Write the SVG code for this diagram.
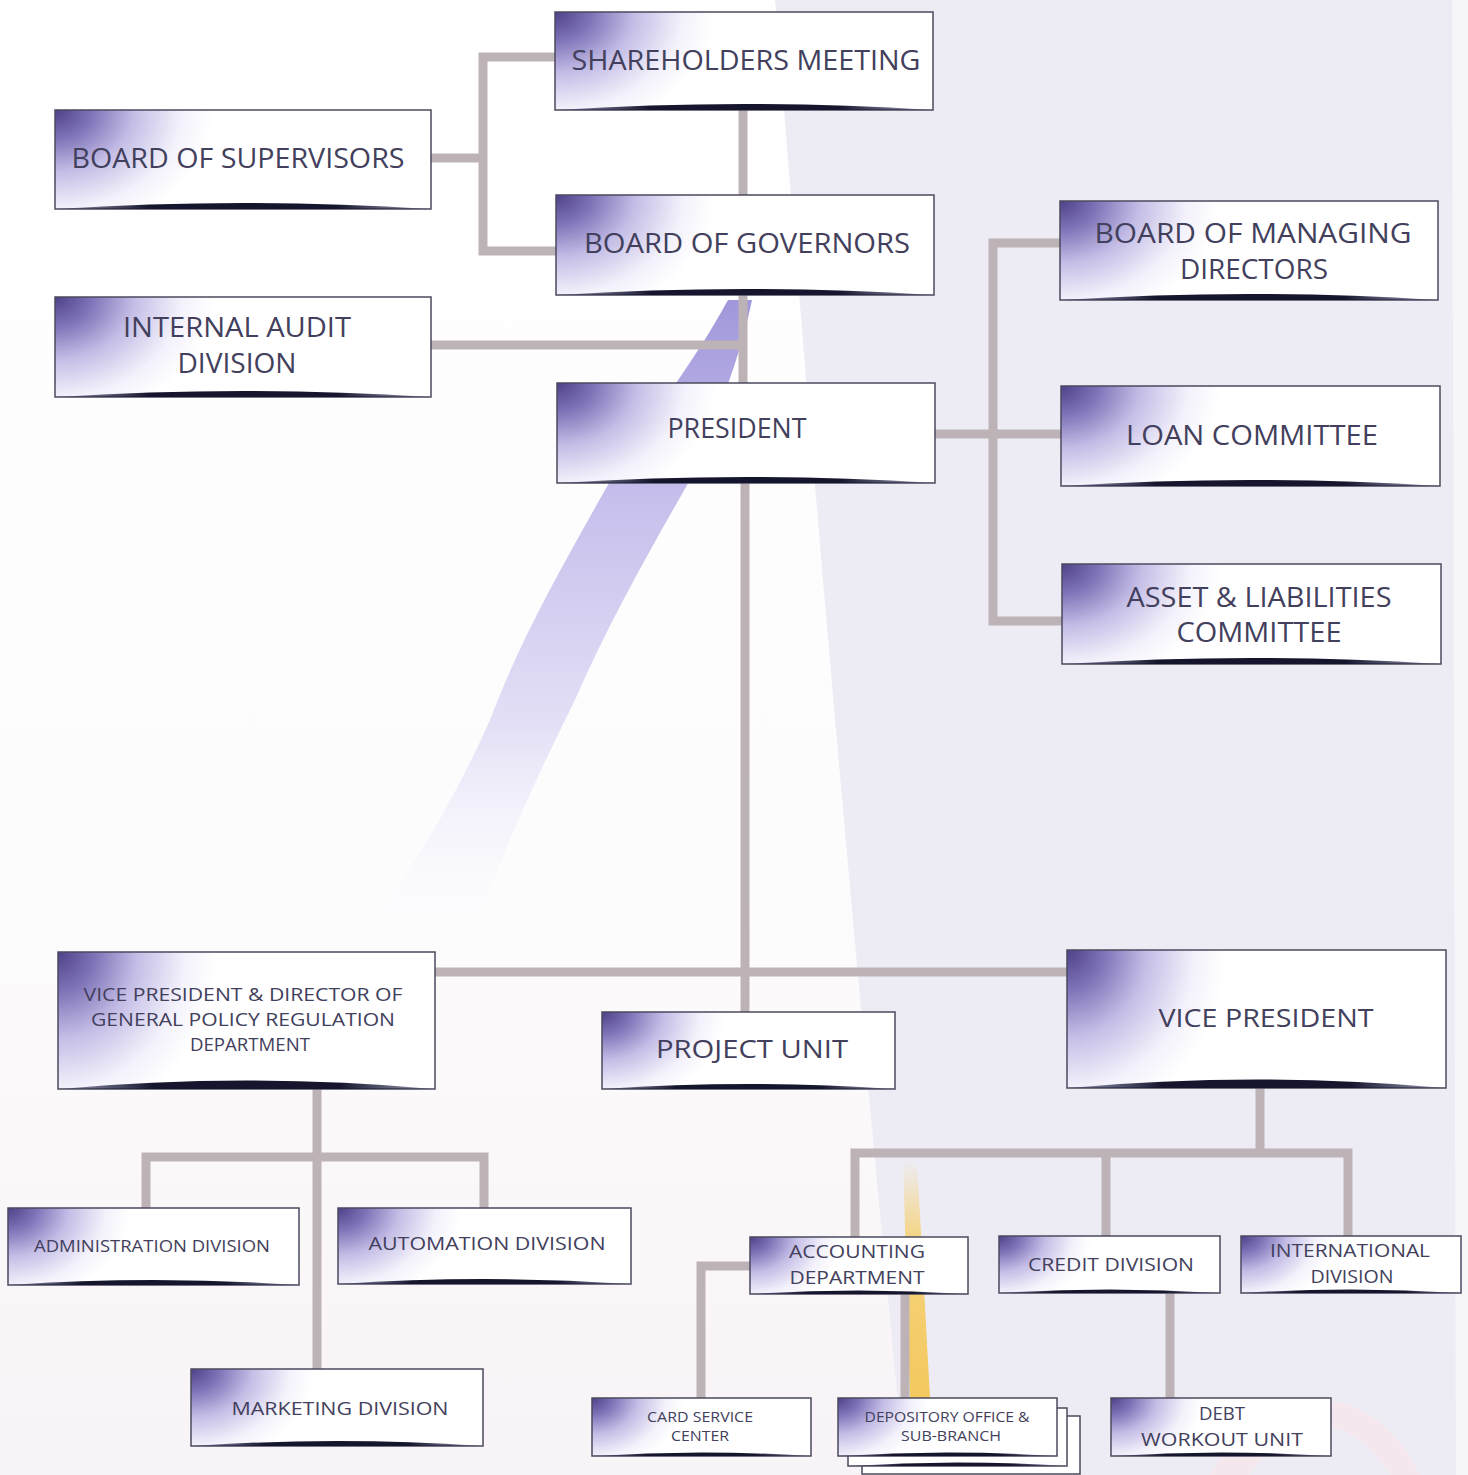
<svg xmlns="http://www.w3.org/2000/svg" width="1468" height="1475" viewBox="0 0 1468 1475">
<defs>
<radialGradient id="boxg" cx="0" cy="0" r="1" fx="0" fy="0" gradientTransform="scale(0.42,1.25)">
<stop offset="0" stop-color="#4f4189"/>
<stop offset="0.22" stop-color="#7c70b6"/>
<stop offset="0.5" stop-color="#c4bde6"/>
<stop offset="0.8" stop-color="#f3f1fb"/>
<stop offset="1" stop-color="#ffffff"/>
</radialGradient>
<linearGradient id="shg" x1="0" y1="0" x2="1" y2="0">
<stop offset="0" stop-color="#3a3a60" stop-opacity="0.5"/>
<stop offset="0.25" stop-color="#15152e"/>
<stop offset="0.75" stop-color="#15152e"/>
<stop offset="1" stop-color="#3a3a60" stop-opacity="0.5"/>
</linearGradient>
<linearGradient id="swoosh" x1="0" y1="0" x2="0" y2="1">
<stop offset="0" stop-color="#a097da"/>
<stop offset="0.3" stop-color="#c6bfec"/>
<stop offset="0.65" stop-color="#e4e0f6"/>
<stop offset="1" stop-color="#ffffff" stop-opacity="0"/>
</linearGradient>
<linearGradient id="yel" x1="0" y1="0" x2="0" y2="1">
<stop offset="0" stop-color="#f6d27a" stop-opacity="0"/>
<stop offset="0.35" stop-color="#f5d37c"/>
<stop offset="1" stop-color="#f3c85e"/>
</linearGradient>
<linearGradient id="bgL" x1="0" y1="0" x2="0" y2="1">
<stop offset="0" stop-color="#ffffff"/>
<stop offset="0.6" stop-color="#fdfcfd"/>
<stop offset="1" stop-color="#f8f3f6"/>
</linearGradient>
</defs>
<style>
.box{fill:url(#boxg);stroke:#4b4a5e;stroke-width:1.5}
.sh{fill:url(#shg)}
.t{font-family:"Open Sans","Noto Sans","Liberation Sans",sans-serif;fill:#42405c;text-anchor:middle}
.conn{fill:none;stroke:#bdb3b6;stroke-width:9;stroke-linejoin:miter;stroke-linecap:butt}
.back{fill:#ffffff;stroke:#4b4a5e;stroke-width:1.5}
</style>
<!-- background -->
<rect x="0" y="0" width="1468" height="1475" fill="url(#bgL)"/>
<path d="M775,0 C800,300 830,700 905,1475 L1468,1475 L1468,0 Z" fill="#edecf5"/>
<path d="M1452,0 L1468,0 L1468,1475 L1456,1475 Z" fill="#f6f6f9"/>
<path d="M728,300 C690,370 640,430 605,490 C560,570 520,640 490,720 C450,810 400,890 345,960 L465,960 C490,880 530,790 575,700 C610,620 650,550 690,480 C715,420 740,360 752,300 Z" fill="url(#swoosh)"/>
<path d="M903,1160 L917,1160 L930,1398 L910,1398 Z" fill="url(#yel)"/>
<path d="M1210,1475 C1260,1380 1370,1370 1420,1475 L1390,1475 C1350,1410 1290,1410 1250,1475 Z" fill="#f6e6ea" opacity="0.7"/>
<!-- connectors -->
<g id="connectors">
<path class="conn" d="M555,57 H483 V251 H556"/>
<path class="conn" d="M431,158 H483"/>
<path class="conn" d="M743,110 V195"/>
<path class="conn" d="M743,295 V383"/>
<path class="conn" d="M431,345 H743"/>
<path class="conn" d="M745,483 V1012"/>
<path class="conn" d="M435,972 H1067"/>
<path class="conn" d="M935,434 H1061"/>
<path class="conn" d="M1060,243 H993 V621 H1062"/>
<path class="conn" d="M317,1089 V1369"/>
<path class="conn" d="M146,1208 V1157 H484 V1208"/>
<path class="conn" d="M1260,1088 V1153"/>
<path class="conn" d="M855,1237 V1153 H1348 V1236"/>
<path class="conn" d="M1106,1153 V1236"/>
<path class="conn" d="M750,1266 H701 V1398"/>
<path class="conn" d="M905,1294 V1398"/>
<path class="conn" d="M1170,1293 V1398"/>
</g>
<!-- nodes -->
<g id="shareholders">
<rect class="box" x="555" y="12" width="378" height="98"/>
<path class="sh" d="M556,110 Q744,98 932,110 Z"/>
<text class="t" x="746" y="70" font-size="27" textLength="349" lengthAdjust="spacingAndGlyphs">SHAREHOLDERS MEETING</text>
</g>
<g id="supervisors">
<rect class="box" x="55" y="110" width="376" height="99"/>
<path class="sh" d="M56,209 Q243,197 430,209 Z"/>
<text class="t" x="238" y="168" font-size="27" textLength="333" lengthAdjust="spacingAndGlyphs">BOARD OF SUPERVISORS</text>
</g>
<g id="governors">
<rect class="box" x="556" y="195" width="378" height="100"/>
<path class="sh" d="M557,295 Q745,283 933,295 Z"/>
<text class="t" x="747" y="253" font-size="27" textLength="326" lengthAdjust="spacingAndGlyphs">BOARD OF GOVERNORS</text>
</g>
<g id="internal-audit">
<rect class="box" x="55" y="297" width="376" height="100"/>
<path class="sh" d="M56,397 Q243,385 430,397 Z"/>
<text class="t" x="237" y="337" font-size="27" textLength="228" lengthAdjust="spacingAndGlyphs">INTERNAL AUDIT</text>
<text class="t" x="237" y="373" font-size="27" textLength="119" lengthAdjust="spacingAndGlyphs">DIVISION</text>
</g>
<g id="president">
<rect class="box" x="557" y="383" width="378" height="100"/>
<path class="sh" d="M558,483 Q746,471 934,483 Z"/>
<text class="t" x="737" y="438" font-size="27" textLength="139" lengthAdjust="spacingAndGlyphs">PRESIDENT</text>
</g>
<g id="managing-directors">
<rect class="box" x="1060" y="201" width="378" height="99"/>
<path class="sh" d="M1061,300 Q1249,288 1437,300 Z"/>
<text class="t" x="1253" y="243" font-size="27" textLength="317" lengthAdjust="spacingAndGlyphs">BOARD OF MANAGING</text>
<text class="t" x="1254" y="279" font-size="27" textLength="148" lengthAdjust="spacingAndGlyphs">DIRECTORS</text>
</g>
<g id="loan-committee">
<rect class="box" x="1061" y="386" width="379" height="100"/>
<path class="sh" d="M1062,486 Q1250,474 1439,486 Z"/>
<text class="t" x="1252" y="445" font-size="27" textLength="252" lengthAdjust="spacingAndGlyphs">LOAN COMMITTEE</text>
</g>
<g id="alco">
<rect class="box" x="1062" y="564" width="379" height="100"/>
<path class="sh" d="M1063,664 Q1251,652 1440,664 Z"/>
<text class="t" x="1259" y="607" font-size="27" textLength="265" lengthAdjust="spacingAndGlyphs">ASSET &amp; LIABILITIES</text>
<text class="t" x="1259" y="642" font-size="27" textLength="165" lengthAdjust="spacingAndGlyphs">COMMITTEE</text>
</g>
<g id="vp-director">
<rect class="box" x="58" y="952" width="377" height="137"/>
<path class="sh" d="M59,1089 Q246,1072 434,1089 Z"/>
<text class="t" x="243" y="1001" font-size="19" textLength="319" lengthAdjust="spacingAndGlyphs">VICE PRESIDENT &amp; DIRECTOR OF</text>
<text class="t" x="243" y="1026" font-size="19" textLength="304" lengthAdjust="spacingAndGlyphs">GENERAL POLICY REGULATION</text>
<text class="t" x="250" y="1051" font-size="19" textLength="120" lengthAdjust="spacingAndGlyphs">DEPARTMENT</text>
</g>
<g id="project-unit">
<rect class="box" x="602" y="1012" width="293" height="77"/>
<path class="sh" d="M603,1089 Q748,1079 894,1089 Z"/>
<text class="t" x="752" y="1058" font-size="26" textLength="192" lengthAdjust="spacingAndGlyphs">PROJECT UNIT</text>
</g>
<g id="vice-president">
<rect class="box" x="1067" y="950" width="379" height="138"/>
<path class="sh" d="M1068,1088 Q1256,1071 1445,1088 Z"/>
<text class="t" x="1266" y="1027" font-size="26" textLength="215" lengthAdjust="spacingAndGlyphs">VICE PRESIDENT</text>
</g>
<g id="administration">
<rect class="box" x="8" y="1208" width="291" height="77"/>
<path class="sh" d="M9,1285 Q153,1275 298,1285 Z"/>
<text class="t" x="152" y="1252" font-size="17" textLength="236" lengthAdjust="spacingAndGlyphs">ADMINISTRATION DIVISION</text>
</g>
<g id="automation">
<rect class="box" x="338" y="1208" width="293" height="76"/>
<path class="sh" d="M339,1284 Q484,1274 630,1284 Z"/>
<text class="t" x="487" y="1250" font-size="19" textLength="237" lengthAdjust="spacingAndGlyphs">AUTOMATION DIVISION</text>
</g>
<g id="marketing">
<rect class="box" x="191" y="1369" width="292" height="77"/>
<path class="sh" d="M192,1446 Q337,1436 482,1446 Z"/>
<text class="t" x="340" y="1415" font-size="19" textLength="217" lengthAdjust="spacingAndGlyphs">MARKETING DIVISION</text>
</g>
<g id="accounting">
<rect class="box" x="750" y="1237" width="218" height="57"/>
<path class="sh" d="M751,1294 Q859,1287 967,1294 Z"/>
<text class="t" x="857" y="1258" font-size="18" textLength="136" lengthAdjust="spacingAndGlyphs">ACCOUNTING</text>
<text class="t" x="857" y="1284" font-size="18" textLength="135" lengthAdjust="spacingAndGlyphs">DEPARTMENT</text>
</g>
<g id="credit">
<rect class="box" x="999" y="1236" width="221" height="57"/>
<path class="sh" d="M1000,1293 Q1109,1286 1219,1293 Z"/>
<text class="t" x="1111" y="1271" font-size="18" textLength="166" lengthAdjust="spacingAndGlyphs">CREDIT DIVISION</text>
</g>
<g id="international">
<rect class="box" x="1241" y="1236" width="220" height="57"/>
<path class="sh" d="M1242,1293 Q1351,1286 1460,1293 Z"/>
<text class="t" x="1350" y="1257" font-size="18" textLength="160" lengthAdjust="spacingAndGlyphs">INTERNATIONAL</text>
<text class="t" x="1352" y="1283" font-size="18" textLength="83" lengthAdjust="spacingAndGlyphs">DIVISION</text>
</g>
<g id="card-service">
<rect class="box" x="592" y="1398" width="219" height="58"/>
<path class="sh" d="M593,1456 Q701,1449 810,1456 Z"/>
<text class="t" x="700" y="1422" font-size="14" textLength="106" lengthAdjust="spacingAndGlyphs">CARD SERVICE</text>
<text class="t" x="700" y="1441" font-size="14" textLength="58" lengthAdjust="spacingAndGlyphs">CENTER</text>
</g>
<g id="depository">
<rect class="back" x="862" y="1416" width="218" height="58"/>
<rect class="back" x="848" y="1408" width="219" height="58"/>
<path class="sh" d="M849,1466 Q957,1459 1066,1466 Z"/>
<rect class="box" x="838" y="1398" width="219" height="58"/>
<path class="sh" d="M839,1456 Q947,1449 1056,1456 Z"/>
<text class="t" x="947" y="1422" font-size="14" textLength="165" lengthAdjust="spacingAndGlyphs">DEPOSITORY OFFICE &amp;</text>
<text class="t" x="951" y="1441" font-size="14" textLength="100" lengthAdjust="spacingAndGlyphs">SUB-BRANCH</text>
</g>
<g id="debt-workout">
<rect class="box" x="1111" y="1398" width="220" height="58"/>
<path class="sh" d="M1112,1456 Q1221,1449 1330,1456 Z"/>
<text class="t" x="1222" y="1420" font-size="18" textLength="46" lengthAdjust="spacingAndGlyphs">DEBT</text>
<text class="t" x="1222" y="1446" font-size="18" textLength="162" lengthAdjust="spacingAndGlyphs">WORKOUT UNIT</text>
</g>
</svg>
